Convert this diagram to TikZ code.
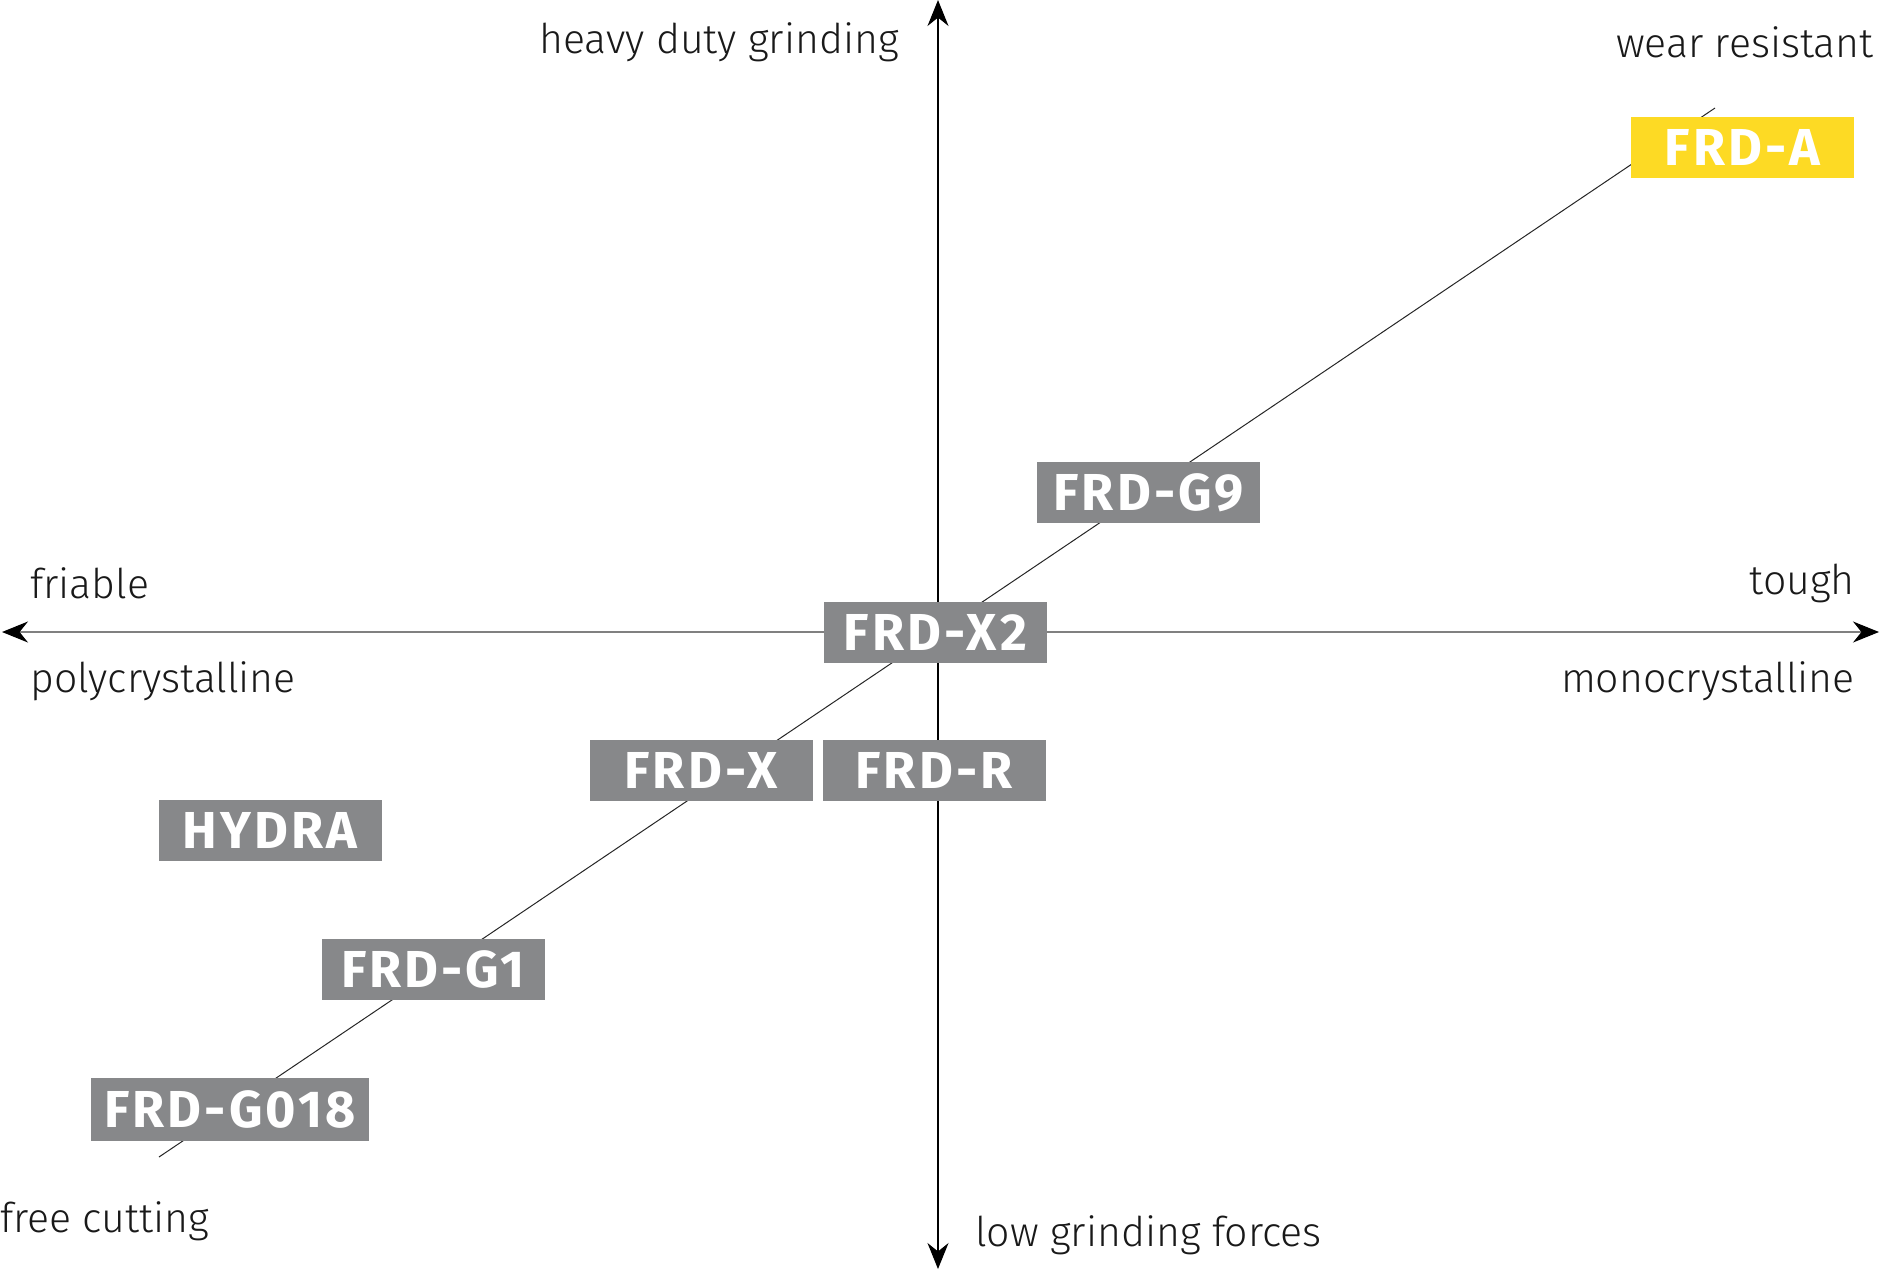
\documentclass[tikz,border=0pt]{standalone}
\usepackage{fontspec}
\setmainfont{Fira Sans}
\newfontfamily\lightfont{Fira Sans Light}
\newfontfamily\boxfont[LetterSpace=6]{Fira Sans Bold}
\usetikzlibrary{arrows.meta}
\definecolor{boxgray}{HTML}{87888A}
\definecolor{frdyellow}{HTML}{FDDA24}
\definecolor{axisgray}{HTML}{808080}
\begin{document}
\begin{tikzpicture}[x=1pt,y=-1pt,
  prod/.style={fill=boxgray, text=white, inner sep=0pt, minimum height=61pt, minimum width=223pt, font=\boxfont\fontsize{52}{56}\selectfont},
  lbl/.style={inner sep=0pt, font=\lightfont\fontsize{41}{44}\selectfont, text=black!90},
  axis/.style={line width=1.3pt, -{Stealth[length=26pt,width=21pt,black]}},
  diag/.style={line width=1pt, black!85}]
\useasboundingbox (0,0) rectangle (1880,1270);
% axes
\coordinate (o) at (938,632);
\coordinate (left) at (2,632);
\coordinate (right) at (1879,632);
\coordinate (top) at (938,0);
\coordinate (bottom) at (938,1269);
\coordinate (dlo) at (159,1157);
\coordinate (dhi) at (1715,108);
\draw[axis, axisgray] (o) -- (left);
\draw[axis, axisgray] (o) -- (right);
\draw[axis, black] (o) -- (top);
\draw[axis, black] (o) -- (bottom);
\draw[diag] (dlo) -- (dhi);
% product boxes
\node[prod, fill=frdyellow] (a) at (1742.5,147) {FRD-A};
\node[prod] (g9) at (1148.5,492.5) {FRD-G9};
\node[prod] (x2) at (935.5,632.5) {FRD-X2};
\node[prod] (r) at (934,770.5) {FRD-R};
\node[prod] (x) at (701,770) {FRD-X};
\node[prod] (hydra) at (270,830.5) {HYDRA};
\node[prod] (g1) at (433,969) {FRD-G1};
\node[prod, minimum width=278pt, minimum height=63pt] (g018) at (230,1109) {FRD-G018};
% labels
\node[lbl, anchor=east] (hd) at (899,42) {heavy duty grinding};
\node[lbl, anchor=east] (wr) at (1874,42) {wear resistant};
\node[lbl, anchor=west] (fr) at (30,583) {friable};
\node[lbl, anchor=east] (to) at (1855,583) {tough};
\node[lbl, anchor=west] (po) at (30,681) {polycrystalline};
\node[lbl, anchor=east] (mo) at (1855,681) {monocrystalline};
\node[lbl, anchor=west] (fc) at (0,1221) {free cutting};
\node[lbl, anchor=west] (lg) at (975,1235) {low grinding forces};
\end{tikzpicture}
\end{document}
